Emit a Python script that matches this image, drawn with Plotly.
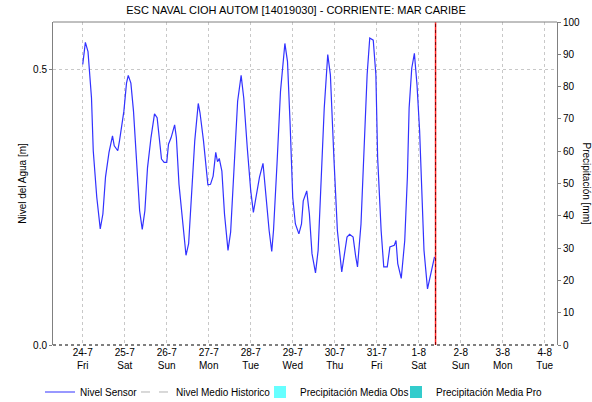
import pandas as pd
import plotly.graph_objects as go

titulo = "ESC NAVAL CIOH AUTOM [14019030] - CORRIENTE: MAR CARIBE"
inicio = "2020-07-24 00:00"
ahora = "2020-08-01 09:36"
rango_x = ["2020-07-23 07:00", "2020-08-04 07:00"]

# hours since 2020-07-24 00:00
horas = [0, 1.5, 3, 5, 6, 8, 10, 11.5, 13, 15, 17, 18, 20, 21, 23.5, 25, 26, 27.5, 29, 31,
         32.5, 34, 35.5, 37, 39, 41, 42.5, 43.5, 45, 46.5, 48, 49, 50.5, 52.5, 53.5, 55, 57, 59,
         60.5, 62, 64, 66, 67, 69, 70.5, 71.5, 73, 74.5, 76, 77, 78, 79.5, 81, 83, 84.5, 86.5,
         88.5, 90.5, 92, 94, 96, 97.5, 99.5, 101, 103, 104.5, 106.5, 108, 109, 111, 113, 115.5,
         117, 118.5, 120, 121.5, 123.5, 125, 126, 128, 129.5, 131, 133, 134.5, 136.5, 138, 140,
         141.5, 143.5, 145.5, 148, 149.5, 151, 152.5, 154.5, 156, 157, 159, 161, 162.5, 164, 166,
         167.5, 168.5, 170.5, 172, 174, 175.5, 178, 179, 180, 182, 184, 185.5, 186.5, 188, 189.5,
         191, 192.5, 194, 195, 197, 198.5, 200, 201]
nivel = [0.510, 0.550, 0.533, 0.449, 0.353, 0.269, 0.211, 0.238, 0.305, 0.350, 0.380, 0.362,
         0.353, 0.371, 0.425, 0.476, 0.490, 0.476, 0.425, 0.329, 0.244, 0.210, 0.244, 0.322,
         0.377, 0.420, 0.413, 0.383, 0.338, 0.332, 0.332, 0.365, 0.377, 0.400, 0.377, 0.292,
         0.220, 0.163, 0.184, 0.268, 0.371, 0.439, 0.422, 0.371, 0.316, 0.291, 0.292, 0.307,
         0.350, 0.333, 0.339, 0.316, 0.238, 0.172, 0.205, 0.316, 0.443, 0.490, 0.449, 0.359,
         0.280, 0.241, 0.274, 0.305, 0.330, 0.274, 0.208, 0.170, 0.208, 0.329, 0.461, 0.548,
         0.515, 0.401, 0.268, 0.220, 0.202, 0.220, 0.262, 0.280, 0.238, 0.166, 0.131, 0.172,
         0.310, 0.431, 0.528, 0.491, 0.341, 0.208, 0.133, 0.166, 0.196, 0.201, 0.196, 0.160,
         0.142, 0.220, 0.371, 0.491, 0.558, 0.554, 0.491, 0.341, 0.208, 0.142, 0.142, 0.178,
         0.181, 0.190, 0.148, 0.121, 0.190, 0.305, 0.431, 0.503, 0.530, 0.473, 0.389, 0.262,
         0.172, 0.102, 0.124, 0.145, 0.160]

precip_obs = []
precip_pro = []
nivel_medio = []

dias = ["2020-07-24", "2020-07-25", "2020-07-26", "2020-07-27", "2020-07-28", "2020-07-29",
        "2020-07-30", "2020-07-31", "2020-08-01", "2020-08-02", "2020-08-03", "2020-08-04"]
etiquetas = ["24-7<br>Fri", "25-7<br>Sat", "26-7<br>Sun", "27-7<br>Mon", "28-7<br>Tue",
             "29-7<br>Wed", "30-7<br>Thu", "31-7<br>Fri", "1-8<br>Sat", "2-8<br>Sun",
             "3-8<br>Mon", "4-8<br>Tue"]

tiempos = pd.to_datetime(inicio) + pd.to_timedelta(horas, unit="h")

FONT = "Liberation Sans, Arial, sans-serif"

fig = go.Figure()
fig.add_trace(go.Scatter(x=tiempos, y=nivel, mode="lines", name="Nivel Sensor",
                         line=dict(color="#3232ff", width=1.2), legend="legend"))
fig.add_trace(go.Scatter(x=[None], y=[None], mode="lines", name="Nivel Medio Historico",
                         line=dict(color="#b4b4b4", width=1, dash="dash"), legend="legend2"))
fig.add_trace(go.Bar(x=[None], y=[None], name="Precipitación Media Obs", yaxis="y2",
                     marker=dict(color="#66ffff", line=dict(width=0)), legend="legend3"))
fig.add_trace(go.Bar(x=[None], y=[None], name="Precipitación Media Pro", yaxis="y2",
                     marker=dict(color="#33cccc", line=dict(width=0)), legend="legend4"))

fig.add_shape(type="line", xref="x", yref="paper", x0=ahora, x1=ahora, y0=0, y1=1,
              line=dict(color="#ff2020", width=1.5))
fig.add_shape(type="line", xref="x", yref="paper", x0=ahora, x1=ahora, y0=0, y1=1,
              line=dict(color="#800000", width=1, dash="dot"))

leg_common = dict(orientation="h", xref="container", xanchor="left",
                  yref="container", y=0.0249, yanchor="middle",
                  font=dict(size=10), itemwidth=30, bgcolor="rgba(0,0,0,0)", borderwidth=0)

fig.update_layout(
    width=592, height=402,
    margin=dict(l=53, r=35, t=22, b=57, autoexpand=False),
    paper_bgcolor="white", plot_bgcolor="white",
    font=dict(family=FONT, size=10, color="#000000"),
    title=dict(text=titulo, x=0.5, xanchor="center", xref="container",
               y=0.975, yanchor="middle", yref="container",
               font=dict(size=11, family=FONT)),
    showlegend=True,
    legend=dict(x=40 / 592, **leg_common),
    legend2=dict(x=136 / 592, **leg_common),
    legend3=dict(x=260 / 592, **leg_common),
    legend4=dict(x=396 / 592, **leg_common),
    xaxis=dict(type="date", range=rango_x, tickvals=dias, ticktext=etiquetas,
               showgrid=True, gridcolor="#c8c8c8", griddash="dot", gridwidth=1,
               showline=False, ticks="", tickfont=dict(size=10), zeroline=False),
    yaxis=dict(range=[0, 0.587], tickvals=[0, 0.5], ticktext=["0.0", "0.5"],
               showgrid=True, gridcolor="#c8c8c8", griddash="dot", gridwidth=1,
               showline=True, linecolor="#808080", linewidth=1, mirror=False,
               ticks="outside", ticklen=3, tickcolor="#808080", zeroline=False,
               title=dict(text="Nivel del Agua [m]", font=dict(size=10), standoff=4)),
    yaxis2=dict(range=[0, 100], dtick=10, overlaying="y", side="right", showgrid=False,
                showline=True, linecolor="#808080", linewidth=1,
                ticks="outside", ticklen=3, tickcolor="#808080", zeroline=False),
)
fig.add_annotation(text="Precipitación [mm]", xref="paper", yref="paper",
                   x=1 + 29 / 504, y=0.5, xanchor="center", yanchor="middle",
                   textangle=90, showarrow=False, font=dict(size=10, family=FONT))
fig.add_shape(type="line", xref="paper", yref="paper", x0=0, x1=1, y0=1, y1=1,
              line=dict(color="#808080", width=1))
fig.add_shape(type="line", xref="paper", yref="paper", x0=0, x1=1, y0=0, y1=0,
              line=dict(color="#000000", width=1, dash="dot"))

fig.write_html("out.html", config={"displayModeBar": False},
               post_script="document.body.style.margin='0';")
